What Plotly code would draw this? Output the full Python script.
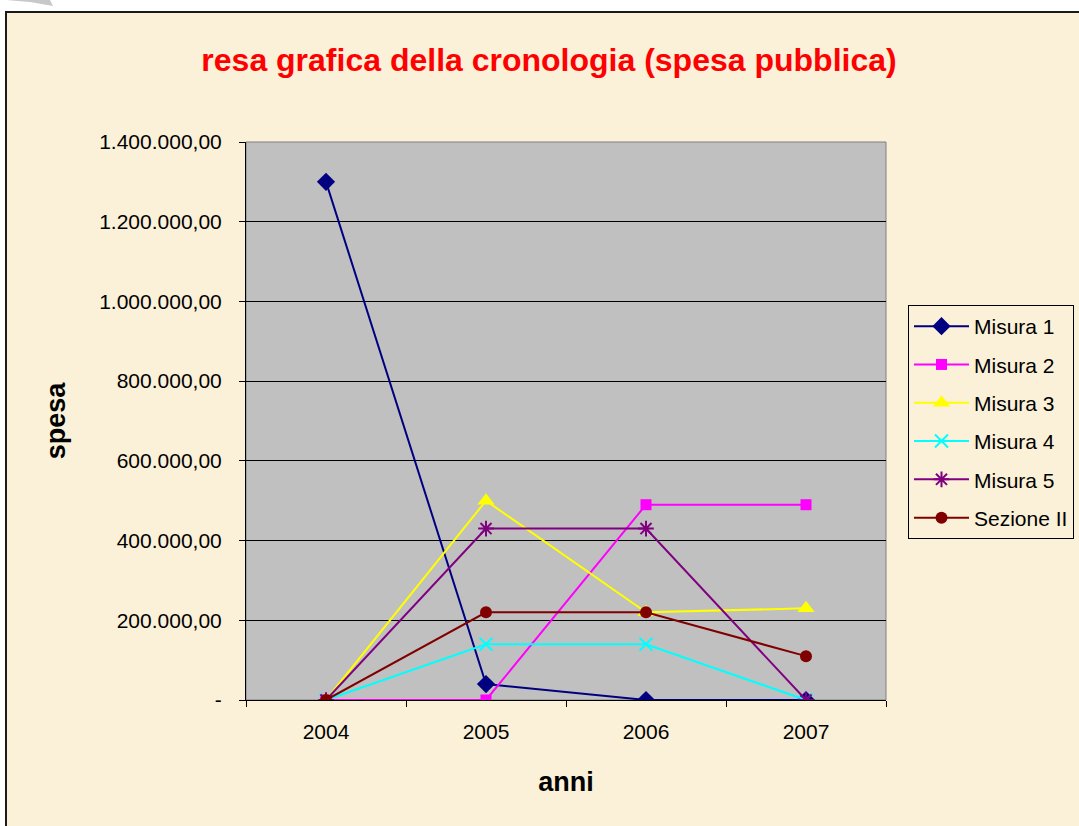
import plotly.graph_objects as go

years = ["2004", "2005", "2006", "2007"]
misura1 = [1300000, 40000, 0, 0]
misura2 = [0, 0, 490000, 490000]
misura3 = [0, 500000, 220000, 230000]
misura4 = [0, 140000, 140000, 0]
misura5 = [0, 430000, 430000, 0]
sezione2 = [0, 220000, 220000, 110000]

series_names = ["Misura 1", "Misura 2", "Misura 3", "Misura 4", "Misura 5", "Sezione II"]
series_values = [misura1, misura2, misura3, misura4, misura5, sezione2]

y_tickvals = [0, 200000, 400000, 600000, 800000, 1000000, 1200000, 1400000]
y_ticktext = ["-", "200.000,00", "400.000,00", "600.000,00", "800.000,00",
              "1.000.000,00", "1.200.000,00", "1.400.000,00"]

W, H = 1079, 826
L, R, T, B = 246, 193, 142, 126
PW, PH = W - L - R, H - T - B


def px(x):
    return (x - L) / PW


def py(y):
    return (H - B - y) / PH


styles = [
    dict(color="#000080", symbol="diamond", size=14, lw=0),
    dict(color="#FF00FF", symbol="square", size=11, lw=0),
    dict(color="#FFFF00", symbol="triangle-up", size=15, lw=0),
    dict(color="#00FFFF", symbol="x-thin-open", size=13, lw=2),
    dict(color="#800080", symbol="asterisk-open", size=13, lw=2),
    dict(color="#800000", symbol="circle", size=12, lw=0),
]

fig = go.Figure()
for i, (name, vals) in enumerate(zip(series_names, series_values)):
    st = styles[i]
    fig.add_trace(go.Scatter(
        x=years, y=vals, name=name, mode="lines+markers",
        legendgroup=f"g{i}",
        line=dict(color=st["color"], width=2),
        marker=dict(symbol=st["symbol"], size=st["size"], color=st["color"],
                    line=dict(color=st["color"], width=st["lw"])),
    ))

shapes = [
    # parchment frame
    dict(type="rect", xref="paper", yref="paper", layer="below",
         x0=px(6), x1=px(W + 10), y0=py(12), y1=py(H + 10),
         fillcolor="#FBF0D8", line=dict(color="#1a1a1a", width=2)),
    # page curl
    dict(type="path", xref="paper", yref="paper", layer="below",
         path=f"M{px(6)},{py(0)} L{px(50)},{py(0)} L{px(53)},{py(6)} L{px(30)},{py(2)} Z",
         fillcolor="#C8C8C8", line=dict(width=0)),
    # gray plot area
    dict(type="rect", xref="paper", yref="paper", layer="below",
         x0=0, x1=1, y0=0, y1=1,
         fillcolor="#C0C0C0", line=dict(color="#808080", width=1)),
]

fig.update_layout(
    width=W, height=H,
    margin=dict(l=L, r=R, t=T, b=B, autoexpand=False),
    paper_bgcolor="white",
    plot_bgcolor="rgba(0,0,0,0)",
    font=dict(family="Arial, Liberation Sans, sans-serif", size=21, color="black"),
    title=dict(text="<b>resa grafica della cronologia (spesa pubblica)</b>",
               font=dict(size=32, color="#FF0000"),
               x=px(549), xref="paper", xanchor="center",
               y=1 - 60 / H, yanchor="middle"),
    shapes=shapes,
    showlegend=True,
    legend=dict(x=px(908), y=py(305), xanchor="left", yanchor="top",
                bgcolor="rgba(0,0,0,0)", bordercolor="black", borderwidth=1,
                font=dict(size=21, color="black"), tracegroupgap=8,
                traceorder="grouped", itemwidth=55),
    xaxis=dict(type="category", range=[-0.5, 3.5], tickson="boundaries",
               ticks="outside", ticklen=6, tickcolor="black",
               showline=True, linecolor="black", linewidth=1,
               showgrid=False, zeroline=False,
               ticklabelstandoff=13,
               title=dict(text="<b>anni</b>", font=dict(size=27), standoff=29)),
    yaxis=dict(range=[0, 1400000], tickvals=y_tickvals, ticktext=y_ticktext,
               ticks="outside", ticklen=6, tickcolor="black",
               showline=True, linecolor="black", linewidth=1,
               showgrid=True, gridcolor="black", gridwidth=1, zeroline=False,
               ticklabelstandoff=13,
               title=dict(text="<b>spesa</b>", font=dict(size=27), standoff=25)),
)

fig.write_html("out.html", config={"displayModeBar": False},
               post_script="document.body.style.margin='0';")
